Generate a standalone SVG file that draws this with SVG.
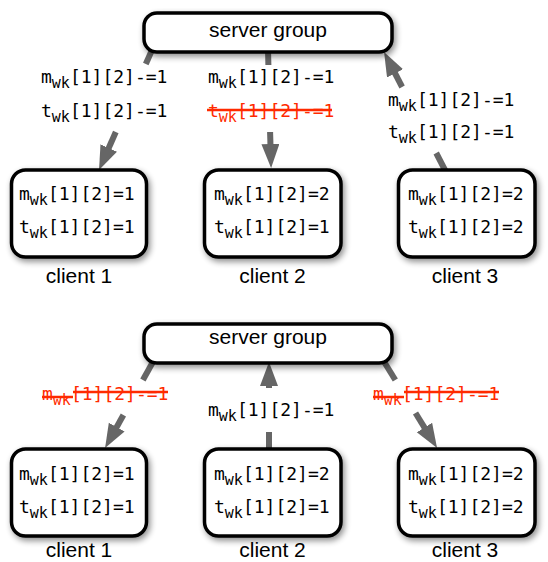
<svg xmlns="http://www.w3.org/2000/svg" width="548" height="562" viewBox="0 0 548 562">
<style>
.box{fill:#fff;stroke:#000;stroke-width:3.5;filter:url(#sh)}
.t{font-family:"DejaVu Sans Mono","Liberation Mono",monospace;font-size:18px;fill:#000}
.red{fill:#ff2a00}
.sub{font-size:15px}
.lbl{font-family:"Liberation Sans",Arial,sans-serif;font-size:21px;fill:#000;text-anchor:middle}
.c{stroke:#666;stroke-width:6;fill:none}
.strike{stroke:#ff2a00;stroke-width:2.5}
</style>
<defs>
<filter id="sh" x="-20%" y="-20%" width="140%" height="150%">
<feGaussianBlur in="SourceAlpha" stdDeviation="3"/>
<feOffset dx="2" dy="3" result="b"/>
<feComponentTransfer><feFuncA type="linear" slope="0.45"/></feComponentTransfer>
<feMerge><feMergeNode/><feMergeNode in="SourceGraphic"/></feMerge>
</filter>
<marker id="ah" markerUnits="userSpaceOnUse" markerWidth="26" markerHeight="20" refX="6" refY="9" orient="auto">
<path d="M0,0 L24,9 L0,18 z" fill="#666"/>
</marker>
</defs>

<g id="connectors">
<line class="c" x1="152" y1="50" x2="145.8" y2="64"/>
<line class="c" x1="115.8" y1="132" x2="106.3" y2="153.5" marker-end="url(#ah)"/>
<line class="c" x1="268" y1="49" x2="268.4" y2="65"/>
<line class="c" x1="270.1" y1="132" x2="270.6" y2="150" marker-end="url(#ah)"/>
<line class="c" x1="446" y1="172" x2="436.2" y2="153"/>
<line class="c" x1="402.1" y1="87" x2="392.3" y2="68" marker-end="url(#ah)"/>
<line class="c" x1="154" y1="360" x2="142.9" y2="380"/>
<line class="c" x1="123.4" y1="415" x2="113.8" y2="432.3" marker-end="url(#ah)"/>
<line class="c" x1="269" y1="449" x2="269" y2="432"/>
<line class="c" x1="269" y1="388" x2="269" y2="380" marker-end="url(#ah)"/>
<line class="c" x1="383" y1="360" x2="395.3" y2="380"/>
<line class="c" x1="415.5" y1="413" x2="427.6" y2="432.6" marker-end="url(#ah)"/>
</g>

<g id="labels-top">
<text class="t" x="41" y="83">m<tspan class="sub" dy="5">wk</tspan><tspan dy="-5">[1][2]-=1</tspan></text>
<text class="t" x="41" y="117">t<tspan class="sub" dy="5">wk</tspan><tspan dy="-5">[1][2]-=1</tspan></text>
<text class="t" x="208" y="83">m<tspan class="sub" dy="5">wk</tspan><tspan dy="-5">[1][2]-=1</tspan></text>
<text class="t red" x="208" y="117">t<tspan class="sub" dy="5">wk</tspan><tspan dy="-5">[1][2]-=1</tspan></text>
<line class="strike" x1="207" y1="110" x2="332" y2="110"/>
<text class="t" x="388" y="106">m<tspan class="sub" dy="5">wk</tspan><tspan dy="-5">[1][2]-=1</tspan></text>
<text class="t" x="388" y="138">t<tspan class="sub" dy="5">wk</tspan><tspan dy="-5">[1][2]-=1</tspan></text>
</g>

<g id="labels-bottom">
<text class="t red" x="42" y="400">m<tspan class="sub" dy="5">wk</tspan><tspan dy="-5">[1][2]-=1</tspan></text>
<line class="strike" x1="42" y1="397" x2="73" y2="397"/>
<line class="strike" x1="73" y1="392" x2="168" y2="392"/>
<text class="t" x="208" y="416">m<tspan class="sub" dy="5">wk</tspan><tspan dy="-5">[1][2]-=1</tspan></text>
<text class="t red" x="373" y="400">m<tspan class="sub" dy="5">wk</tspan><tspan dy="-5">[1][2]-=1</tspan></text>
<line class="strike" x1="373" y1="397" x2="404" y2="397"/>
<line class="strike" x1="404" y1="392" x2="499" y2="392"/>
</g>

<g id="server-top">
<rect class="box" x="144" y="13" width="248" height="39" rx="13"/>
<text class="lbl" x="268" y="37">server group</text>
</g>
<g id="client1-top">
<rect class="box" x="11.5" y="170" width="135" height="87" rx="14"/>
<text class="t" x="19" y="200">m<tspan class="sub" dy="5">wk</tspan><tspan dy="-5">[1][2]=1</tspan></text>
<text class="t" x="19" y="233">t<tspan class="sub" dy="5">wk</tspan><tspan dy="-5">[1][2]=1</tspan></text>
<text class="lbl" x="79" y="283">client 1</text>
</g>
<g id="client2-top">
<rect class="box" x="204.5" y="170" width="136.5" height="87" rx="14"/>
<text class="t" x="214" y="200">m<tspan class="sub" dy="5">wk</tspan><tspan dy="-5">[1][2]=2</tspan></text>
<text class="t" x="214" y="233">t<tspan class="sub" dy="5">wk</tspan><tspan dy="-5">[1][2]=1</tspan></text>
<text class="lbl" x="272.5" y="283">client 2</text>
</g>
<g id="client3-top">
<rect class="box" x="398.5" y="170" width="136.5" height="87" rx="14"/>
<text class="t" x="408" y="200">m<tspan class="sub" dy="5">wk</tspan><tspan dy="-5">[1][2]=2</tspan></text>
<text class="t" x="408" y="233">t<tspan class="sub" dy="5">wk</tspan><tspan dy="-5">[1][2]=2</tspan></text>
<text class="lbl" x="465" y="283">client 3</text>
</g>

<g id="server-bottom">
<rect class="box" x="144" y="324" width="248" height="39" rx="13"/>
<text class="lbl" x="268" y="344">server group</text>
</g>
<g id="client1-bottom">
<rect class="box" x="11.5" y="449" width="135" height="87" rx="14"/>
<text class="t" x="19" y="480">m<tspan class="sub" dy="5">wk</tspan><tspan dy="-5">[1][2]=1</tspan></text>
<text class="t" x="19" y="513">t<tspan class="sub" dy="5">wk</tspan><tspan dy="-5">[1][2]=1</tspan></text>
<text class="lbl" x="79" y="557">client 1</text>
</g>
<g id="client2-bottom">
<rect class="box" x="204.5" y="449" width="136.5" height="87" rx="14"/>
<text class="t" x="214" y="480">m<tspan class="sub" dy="5">wk</tspan><tspan dy="-5">[1][2]=2</tspan></text>
<text class="t" x="214" y="513">t<tspan class="sub" dy="5">wk</tspan><tspan dy="-5">[1][2]=1</tspan></text>
<text class="lbl" x="272.5" y="557">client 2</text>
</g>
<g id="client3-bottom">
<rect class="box" x="398.5" y="449" width="136.5" height="87" rx="14"/>
<text class="t" x="408" y="480">m<tspan class="sub" dy="5">wk</tspan><tspan dy="-5">[1][2]=2</tspan></text>
<text class="t" x="408" y="513">t<tspan class="sub" dy="5">wk</tspan><tspan dy="-5">[1][2]=2</tspan></text>
<text class="lbl" x="465" y="557">client 3</text>
</g>
</svg>
